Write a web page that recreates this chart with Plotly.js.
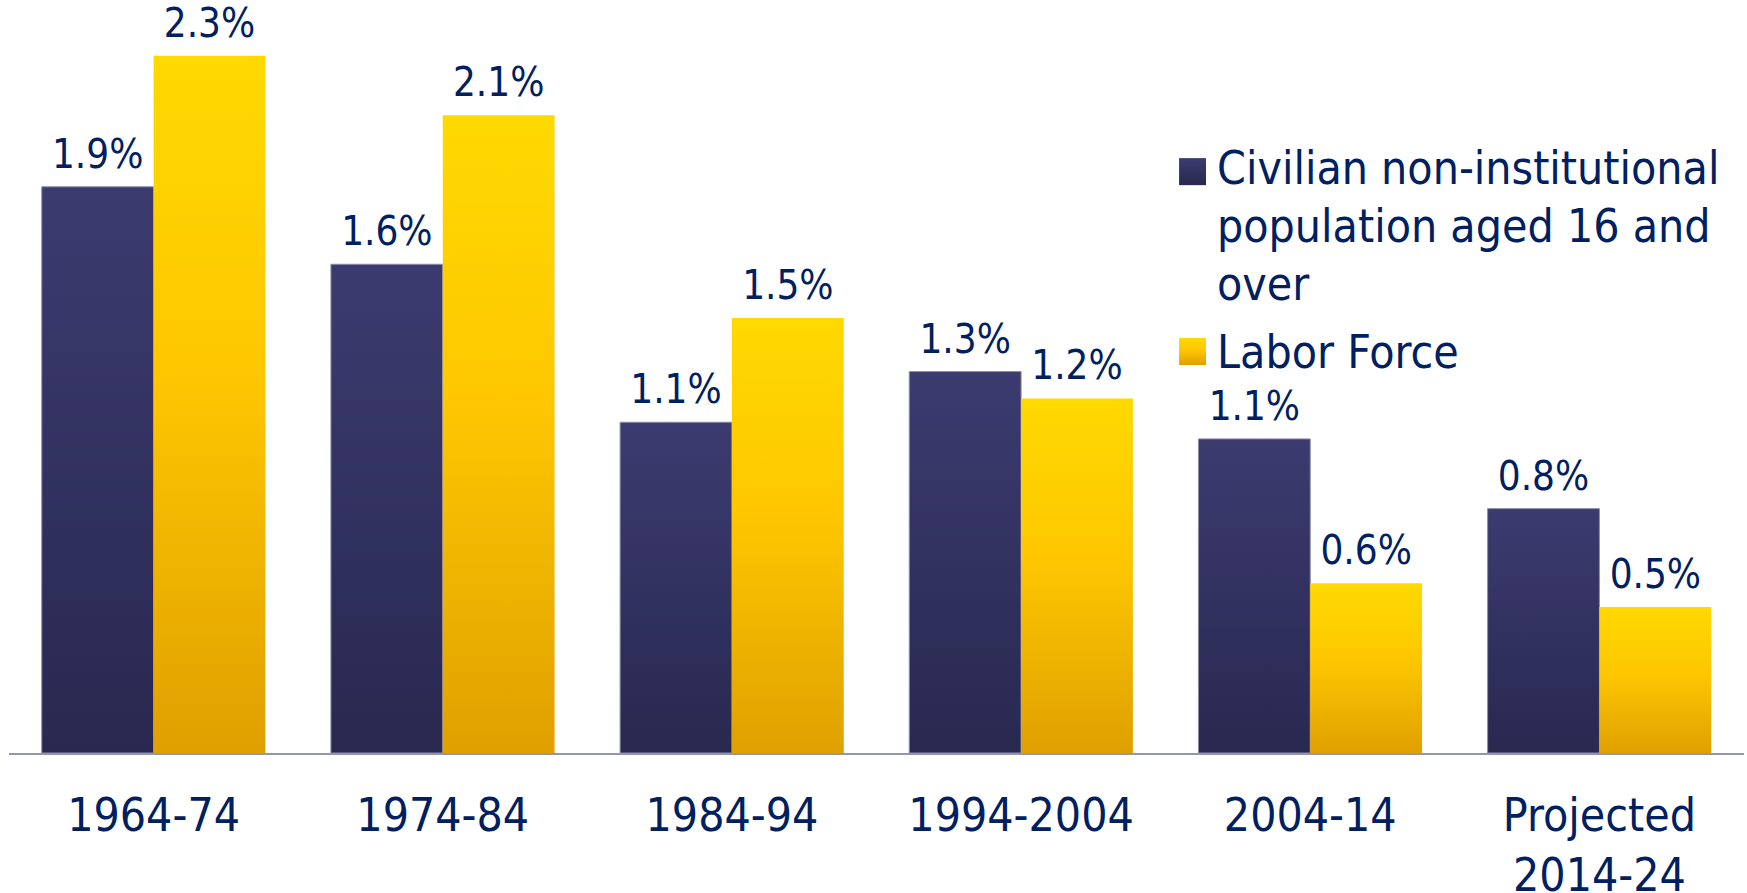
<!DOCTYPE html>
<html><head><meta charset="utf-8">
<script src="https://cdn.plot.ly/plotly-3.0.1.min.js"></script>
<style>html,body{margin:0;padding:0;background:#fff;overflow:hidden}#chart{width:1747px;height:893px}</style>
</head><body><div id="chart"></div>
<script>
const periods = ['1964-74','1974-84','1984-94','1994-2004','2004-14','Projected<br>2014-24'];
const civilianGrowth = [1.90, 1.64, 1.11, 1.28, 1.054, 0.82];
const laborForceGrowth = [2.34, 2.14, 1.46, 1.19, 0.57, 0.49];
const seriesNames = ['Civilian non-institutional<br>population aged 16 and<br>over', 'Labor Force'];

const FONT = '"DejaVu Sans Condensed", "DejaVu Sans", sans-serif';
const TEXT = '#002060';
const NAVY = '#33325f', GOLD = '#fcc800';

const traces = [
  {type:'bar', x:periods, y:civilianGrowth, name:seriesNames[0],
   marker:{color:NAVY, line:{color:'#8c8ca8', width:1}},
   texttemplate:'%{y:.1f}%', textposition:'outside', cliponaxis:false, constraintext:'none',
   textfont:{family:FONT, size:40, color:TEXT}, hoverinfo:'skip'},
  {type:'bar', x:periods, y:laborForceGrowth, name:seriesNames[1],
   marker:{color:GOLD, line:{width:0}},
   texttemplate:'%{y:.1f}%', textposition:'outside', cliponaxis:false, constraintext:'none',
   textfont:{family:FONT, size:40, color:TEXT}, hoverinfo:'skip'}
];

// legend built from the series names (one annotation per text line)
const legendLines = seriesNames[0].split('<br>');
const lineTops = [0.8235, 0.7458, 0.6679];
const legendAnnotations = legendLines.map(function(t, i){
  return {xref:'paper', yref:'paper', x:0.6949, y:lineTops[i], xanchor:'left', yanchor:'top', align:'left', showarrow:false,
          text:t, font:{family:FONT, size:46, color:TEXT}};
});
legendAnnotations.push({xref:'paper', yref:'paper', x:0.6949, y:0.5774, xanchor:'left', yanchor:'top', align:'left', showarrow:false,
          text:seriesNames[1], font:{family:FONT, size:46, color:TEXT}});

const layout = {
  width:1747, height:893,
  margin:{l:9, r:3, t:8, b:140},
  paper_bgcolor:'#fff', plot_bgcolor:'#fff',
  barmode:'group', bargap:0.2266, bargroupgap:0,
  showlegend:false,
  font:{family:FONT, color:TEXT},
  xaxis:{type:'category', showline:true, linecolor:'#9496ab', linewidth:2, ticks:'',
         tickfont:{family:FONT, size:46, color:TEXT}, ticklabelstandoff:21, showgrid:false, zeroline:false},
  yaxis:{range:[0,2.5], visible:false, showgrid:false, zeroline:false},
  shapes:[
    {type:'rect', xref:'paper', yref:'paper', x0:0.6744, x1:0.6899, y0:0.7622, y1:0.7985, fillcolor:NAVY, line:{width:0}},
    {type:'rect', xref:'paper', yref:'paper', x0:0.6744, x1:0.6899, y0:0.5208, y1:0.5571, fillcolor:GOLD, line:{width:0}}
  ],
  annotations:legendAnnotations
};

function applyStyling(gd){
  const NS = 'http://www.w3.org/2000/svg';
  const svg = gd.querySelector('svg.main-svg');
  let defs = svg.querySelector('defs');
  if(!defs){ defs = document.createElementNS(NS,'defs'); svg.insertBefore(defs, svg.firstChild); }
  function mk(id, stops){
    const g = document.createElementNS(NS,'linearGradient');
    g.setAttribute('id', id); g.setAttribute('x1','0'); g.setAttribute('y1','0'); g.setAttribute('x2','0'); g.setAttribute('y2','1');
    stops.forEach(function(s){ const st = document.createElementNS(NS,'stop'); st.setAttribute('offset', s[0]); st.setAttribute('stop-color', s[1]); g.appendChild(st); });
    defs.appendChild(g);
  }
  mk('gradNavy', [[0,'#3c3b70'],[1,'#282850']]);
  mk('gradGold', [[0,'#ffd900'],[0.45,'#fec700'],[1,'#e0a000']]);
  const tr = gd.querySelectorAll('.barlayer .trace');
  if(tr[0]) tr[0].querySelectorAll('.point path').forEach(function(p){ p.style.fill = 'url(#gradNavy)'; });
  if(tr[1]) tr[1].querySelectorAll('.point path').forEach(function(p){ p.style.fill = 'url(#gradGold)'; });
  const sh = gd.querySelectorAll('.shapelayer path');
  if(sh[0]) sh[0].style.fill = 'url(#gradNavy)';
  if(sh[1]) sh[1].style.fill = 'url(#gradGold)';
  // lift value labels a little further above the bars
  gd.querySelectorAll('.barlayer .bartext').forEach(function(t){
    const tf = t.getAttribute('transform') || '';
    t.setAttribute('transform', 'translate(0,-7) ' + tf);
  });
}

Plotly.newPlot('chart', traces, layout, {displayModeBar:false, staticPlot:true}).then(applyStyling);
</script></body></html>
